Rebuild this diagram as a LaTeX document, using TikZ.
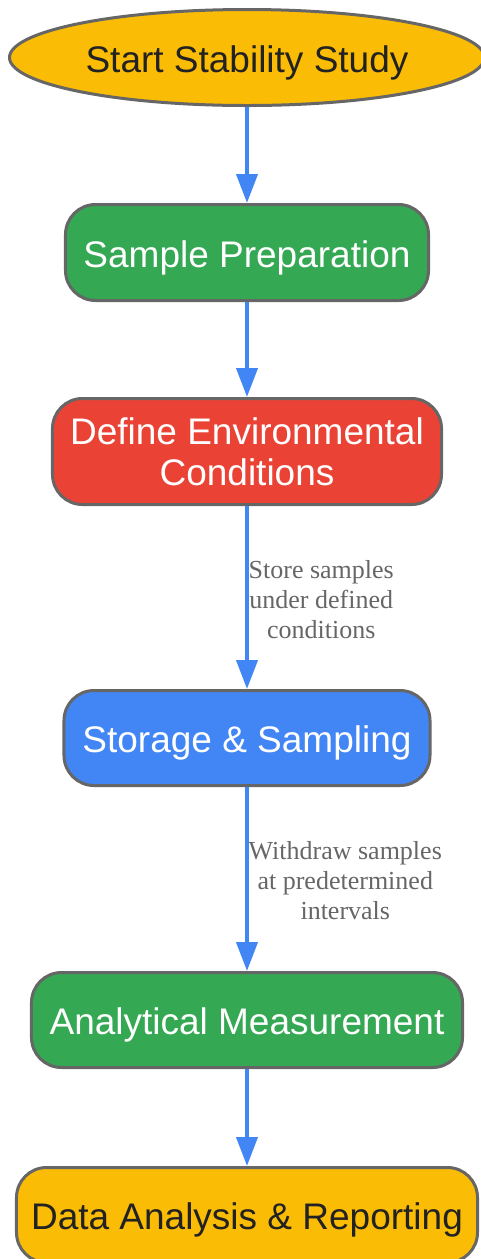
\documentclass[tikz,border=0pt]{standalone}
\usepackage{fontspec}
\setmainfont{Liberation Sans}
\newfontfamily\lblfont{Liberation Serif}
\usetikzlibrary{arrows.meta,shapes.geometric}
\definecolor{gyellow}{HTML}{FBBC05}
\definecolor{ggreen}{HTML}{34A853}
\definecolor{gred}{HTML}{EA4335}
\definecolor{gblue}{HTML}{4285F4}
\definecolor{bordergray}{HTML}{666666}
\definecolor{darktext}{HTML}{222222}
\definecolor{lbltext}{HTML}{666666}
\tikzset{
  base/.style={draw=bordergray, line width=3bp, inner sep=0pt, align=center,
    font=\fontsize{37bp}{41bp}\selectfont},
  oneline/.style={text height=29bp, text depth=0pt},
  startnode/.style={base, oneline, ellipse, fill=gyellow, text=darktext},
  box/.style={base, rectangle, rounded corners=30bp},
  flow/.style={draw=gblue, line width=4bp, -{Triangle[length=29bp,width=21bp]}},
  lbl/.style={anchor=west, inner sep=0pt, align=center, text=lbltext,
    font=\lblfont\fontsize{26bp}{30bp}\selectfont}
}
\begin{document}
\begin{tikzpicture}[x=1bp,y=-1bp]
\useasboundingbox (0,0) rectangle (481,1259);
\node[startnode, minimum width=475bp, minimum height=96bp] (start) at (247,57.5) {Start Stability Study};
\node[box, oneline, fill=ggreen, text=white, minimum width=363bp, minimum height=96bp] (prep) at (247,252.5) {Sample Preparation};
\node[box, fill=gred, text=white, minimum width=389bp, minimum height=106bp] (env) at (247,451.5) {Define Environmental\\Conditions};
\node[box, oneline, fill=gblue, text=white, minimum width=366bp, minimum height=95bp] (store) at (247,738) {Storage \& Sampling};
\node[box, oneline, fill=ggreen, text=white, minimum width=431bp, minimum height=95bp] (meas) at (247,1020) {Analytical Measurement};
\node[box, oneline, fill=gyellow, text=darktext, minimum width=461bp, minimum height=95bp] (data) at (247,1215) {Data Analysis \& Reporting};
\draw[flow] (start) -- (prep);
\draw[flow] (prep) -- (env);
\draw[flow] (env) -- (store);
\draw[flow] (store) -- (meas);
\draw[flow] (meas) -- (data);
\node[lbl] (l1) at (248.5,600) {Store samples\\under defined\\conditions};
\node[lbl] (l2) at (248.5,881) {Withdraw samples\\at predetermined\\intervals};
\end{tikzpicture}
\end{document}
